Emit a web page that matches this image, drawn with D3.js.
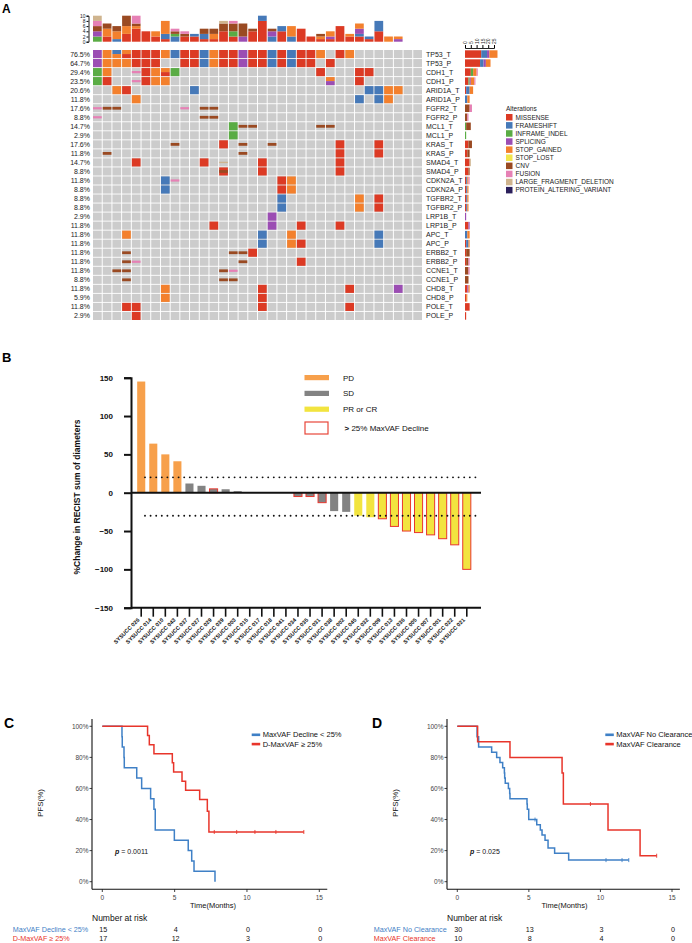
<!DOCTYPE html>
<html>
<head>
<meta charset="utf-8">
<script src="https://cdn.jsdelivr.net/npm/d3@7"></script>
<style>
  body { margin: 0; background: #fff; }
  svg { font-family: "Liberation Sans", Arial, Helvetica, sans-serif; }
</style>
</head>
<body>
<svg id="fig" width="692" height="943"></svg>
<script>
// ---------------- Panel A data (oncoprint) ----------------
var genes = ["TP53_T","TP53_P","CDH1_T","CDH1_P","ARID1A_T","ARID1A_P","FGFR2_T","FGFR2_P",
             "MCL1_T","MCL1_P","KRAS_T","KRAS_P","SMAD4_T","SMAD4_P","CDKN2A_T","CDKN2A_P",
             "TGFBR2_T","TGFBR2_P","LRP1B_T","LRP1B_P","APC_T","APC_P","ERBB2_T","ERBB2_P",
             "CCNE1_T","CCNE1_P","CHD8_T","CHD8_P","POLE_T","POLE_P"];
var genePct = ["76.5%","64.7%","29.4%","23.5%","20.6%","11.8%","17.6%","8.8%","14.7%","2.9%",
               "17.6%","11.8%","14.7%","8.8%","11.8%","8.8%","8.8%","8.8%","2.9%","11.8%",
               "11.8%","11.8%","11.8%","11.8%","11.8%","8.8%","11.8%","5.9%","11.8%","2.9%"];
// "column:codes" per gene row (M missense, F frameshift, I inframe, S splicing, G stop gained,
// L stop lost, C cnv, U fusion, D large deletion, P protein altering)
var oncoRows = [
  "0:S 1:G 2:FG 3:GM 4:M 5:M 6:M 7:G 8:F 9:M 10:M 11:F 12:G 13:M 14:M 15:S 16:M 17:M 18:F 19:M 20:F 21:M 22:M 23:G 25:M 26:G",
  "0:S 1:G 2:G 3:G 4:M 5:M 6:M 9:M 10:M 11:F 12:G 13:M 14:M 15:S 16:M 17:M 18:F 19:M 20:F 21:M 22:M 24:M",
  "0:I 1:G 4:U 5:M 6:G 7:GM 8:I 23:M 27:M 28:M",
  "0:I 1:M 4:U 5:M 6:G 7:G 24:GS 27:M",
  "2:G 3:M 10:F 28:F 29:F 30:G 31:G",
  "4:G 27:F 29:F 30:G",
  "0:U 1:C 2:C 9:U 11:C 12:C",
  "0:U 11:C 12:C",
  "14:I 15:C 16:C 23:C 24:C",
  "14:I",
  "8:C 13:M 15:C 18:C 25:M 29:M",
  "1:C 15:C 25:M 29:M",
  "4:M 11:M 13:D 17:M 25:M",
  "13:MC 17:M 25:M",
  "7:F 8:U 19:M 20:G",
  "7:F 19:M 20:G",
  "19:F 27:G 29:M",
  "19:F 27:G 29:M",
  "18:S",
  "12:M 18:S 21:M 25:M",
  "3:G 17:F 20:G 29:F",
  "17:F 20:G 21:M 29:F",
  "3:C 14:C 15:C 16:M",
  "3:C 4:U 15:C 21:M",
  "2:C 3:C 13:C 14:U",
  "3:C 13:C 14:C",
  "7:G 17:M 26:M 31:S",
  "7:G 17:M",
  "3:M 4:M 17:M 26:M",
  "4:M"
];
var nSamples = 34;

var altNames  = ["MISSENSE","FRAMESHIFT","INFRAME_INDEL","SPLICING","STOP_GAINED","STOP_LOST",
                 "CNV","FUSION","LARGE_FRAGMENT_DELETION","PROTEIN_ALTERING_VARIANT"];
var altCodes  = ["M","F","I","S","G","L","C","U","D","P"];
var altColors = ["#dc3a24","#4679b8","#5aac44","#9b4db3","#f3802d","#f2e64b",
                 "#9a4a22","#e681b5","#cfb48e","#2b1f5b"];

// top annotation: alterations per sample
var topMissense   = [0,2,0,3,5,4,2,1,0,2,2,1,1,4,2,0,4,8,0,4,0,5,2,1,1,6,2,2,1,4,0,0,0,0];
var topFrameshift = [0,0,1,0,0,0,0,2,2,0,1,2,0,0,0,0,0,2,2,2,2,0,0,0,0,0,0,1,1,4,0,0,0,0];
var topInframe    = [2,0,0,0,0,0,0,0,1,0,0,0,0,0,2,0,0,0,0,0,0,0,0,0,0,0,0,0,0,0,0,0,0,0];
var topSplicing   = [2,0,0,0,0,0,0,0,0,0,0,0,0,0,0,2,0,0,2,0,0,0,0,0,1,0,0,2,0,0,0,1,0,0];
var topStopGained = [0,3,3,3,1,0,2,5,0,0,0,0,2,0,0,0,0,0,0,0,4,0,0,1,2,0,1,2,0,0,2,1,0,0];
var topCnv        = [2,2,2,4,1,0,0,0,1,1,0,2,2,3,3,5,1,0,1,0,0,0,0,1,0,0,0,0,0,0,0,0,0,0];
var topFusion     = [2,0,0,0,3,0,0,0,1,1,0,0,0,0,1,0,0,0,0,0,0,0,0,0,0,0,0,0,0,0,0,0,0,0];
var topLargeDel   = [2,0,0,0,0,0,0,0,0,0,0,0,0,1,0,0,0,0,0,0,0,0,0,0,0,0,0,0,0,0,0,0,0,0];
var topTicks = [0,2,4,6,8,10];
var rightTicks = [0,5,10,15,20,25];

// ---------------- Panel B data (waterfall) ----------------
var patients = ["SYSUCC 026","SYSUCC 014","SYSUCC 010","SYSUCC 043","SYSUCC 037","SYSUCC 027",
                "SYSUCC 029","SYSUCC 039","SYSUCC 003","SYSUCC 015","SYSUCC 017","SYSUCC 018",
                "SYSUCC 041","SYSUCC 034","SYSUCC 035","SYSUCC 031","SYSUCC 038","SYSUCC 002",
                "SYSUCC 045","SYSUCC 032","SYSUCC 009","SYSUCC 013","SYSUCC 036","SYSUCC 005",
                "SYSUCC 007","SYSUCC 001","SYSUCC 022","SYSUCC 021"];
var recistChange = [145,64,50,41,12,9,5,4.5,2,0,0,0,0,-5,-5,-13,-24,-25,-30,-32,-34,-44,-50,-52,-55,-60,-68,-100];
var response = ["PD","PD","PD","PD","SD","SD","SD","SD","SD","SD","SD","SD","SD","SD","SD","SD","SD","SD",
                "PR","PR","PR","PR","PR","PR","PR","PR","PR","PR"];
var vafDecline = [0,0,0,0,0,0,1,0,0,0,0,0,0,1,1,1,0,0,0,0,1,1,1,1,1,1,1,1];
var respNames  = ["PD","SD","PR or CR"];
var respColors = {"PD":"#f7a04b","SD":"#838383","PR":"#f2e43f"};
var recistTicks = [150,100,50,0,-50,-100,-150];
var recistCutoffs = [20,-30];

// ---------------- Panel C / D data (Kaplan-Meier) ----------------
var cBlueTimes = [0,1.36,1.38,1.5,1.52,2.38,2.72,3.34,3.57,3.66,4.98,5.94,6.18,6.34,7.79];
var cBlueSurv  = [100,93.3,86.7,80,73.3,66.7,60,53.3,46.7,33.3,26.7,20,13.3,6.7,0];
var cRedTimes  = [0,3.13,3.25,3.57,4.84,4.93,5.51,5.76,6.73,7.26,7.37];
var cRedSurv   = [100,94.1,88.2,82.4,76.5,70.6,64.7,58.8,52.9,45.4,32.0];
var cRedCensor = [7.74,9.29,10.55,12.0,13.93];
var dBlueTimes = [0,1.38,1.49,2.4,2.75,2.98,3.17,3.29,3.31,3.35,3.57,3.66,3.68,4.87,4.89,4.99,5.55,5.8,5.92,6.13,6.34,6.8,7.78];
var dBlueSurv  = [100,93.3,86.7,83.3,80,76.7,73.3,70,66.7,63.3,60,56.7,53.3,50,46.7,40,36.7,33.3,30,26.7,21.7,18.3,13.9];
var dBlueCensor = [5.43,10.39,11.51,11.98];
var dRedTimes  = [0,1.42,3.68,7.32,7.41,10.53,12.77];
var dRedSurv   = [100,90,80,70,50,33.3,16.7];
var dRedCensor = [9.3,13.93];
var timeTicks = [0,5,10,15];
var pfsTicks = [0,20,40,60,80,100];
var cRiskBlue = [15,4,0,0], cRiskRed = [17,12,3,0];
var dRiskBlue = [30,13,3,0], dRiskRed = [10,8,4,0];

var BLUE = "#3f80c6", RED = "#e8352b";

var svg = d3.select("#fig");
svg.append("rect").attr("width", 692).attr("height", 943).attr("fill", "#fff");

// ======================= PANEL A =======================
var gA = svg.append("g");
gA.append("text").attr("x", 2).attr("y", 13).attr("font-size", 12).attr("font-weight", "bold").text("A");

var colX = d3.scaleBand().domain(d3.range(nSamples)).range([93, 422]).paddingInner(0.1);
var rowY = d3.scaleBand().domain(genes).range([50, 320]).paddingInner(0.1);
var colorOf = {};
altCodes.forEach(function(c, i) { colorOf[c] = altColors[i]; });

// parse rows into cells
var cells = [];
oncoRows.forEach(function(r, ri) {
  r.split(" ").forEach(function(tok) {
    var p = tok.split(":");
    cells.push({row: genes[ri], col: +p[0], codes: p[1].split("")});
  });
});

// grey background grid
genes.forEach(function(g) {
  gA.selectAll(null).data(d3.range(nSamples)).enter().append("rect")
    .attr("x", function(c) { return colX(c); })
    .attr("y", rowY(g))
    .attr("width", colX.bandwidth())
    .attr("height", rowY.bandwidth())
    .attr("fill", "#cccccc");
});

var thinH = {"C": 2.8, "U": 2.2, "D": 1.4};
cells.forEach(function(d) {
  var x = colX(d.col), y = rowY(d.row), w = colX.bandwidth(), h = rowY.bandwidth();
  var full = d.codes.filter(function(c) { return !thinH[c]; });
  var thin = d.codes.filter(function(c) { return thinH[c]; });
  full.forEach(function(c, i) {
    gA.append("rect").attr("x", x).attr("y", y + i * h / full.length)
      .attr("width", w).attr("height", h / full.length)
      .attr("fill", colorOf[c]);
  });
  thin.forEach(function(c) {
    gA.append("rect").attr("x", x).attr("y", y + h / 2 - thinH[c] / 2)
      .attr("width", w).attr("height", thinH[c])
      .attr("fill", colorOf[c]);
  });
});

// percent labels and gene names
gA.selectAll(".pct").data(genes).enter().append("text")
  .attr("x", 90).attr("y", function(g) { return rowY(g) + rowY.bandwidth() / 2; })
  .attr("dy", "0.35em").attr("text-anchor", "end").attr("font-size", 7).attr("fill", "#222")
  .text(function(g, i) { return genePct[i]; });
gA.selectAll(".gene").data(genes).enter().append("text")
  .attr("x", 426).attr("y", function(g) { return rowY(g) + rowY.bandwidth() / 2; })
  .attr("dy", "0.35em").attr("font-size", 7).attr("fill", "#222")
  .text(function(g) { return g; });

// top stacked bars
var topSeries = [topMissense, topFrameshift, topInframe, topSplicing, topStopGained, null, topCnv, topFusion, topLargeDel, null];
var yTop = d3.scaleLinear().domain([0, 10]).range([41.7, 15.7]);
d3.range(nSamples).forEach(function(c) {
  var acc = 0;
  topSeries.forEach(function(s, k) {
    if (!s || !s[c]) return;
    gA.append("rect").attr("x", colX(c)).attr("y", yTop(acc + s[c]))
      .attr("width", colX.bandwidth()).attr("height", yTop(acc) - yTop(acc + s[c]))
      .attr("fill", altColors[k]);
    acc += s[c];
  });
});
var topAxis = gA.append("g").attr("transform", "translate(88.5,0)")
  .call(d3.axisLeft(yTop).tickValues(topTicks).tickSize(2).tickPadding(1));
topAxis.selectAll("text").attr("font-size", 5).attr("fill", "#222");
topAxis.select(".domain").attr("stroke", "#222");

// right side stacked bars (counted from the matrix)
var xRight = d3.scaleLinear().domain([0, 25]).range([465, 494]);
genes.forEach(function(g) {
  var counts = altCodes.map(function() { return 0; });
  cells.filter(function(d) { return d.row === g; }).forEach(function(d) {
    d.codes.forEach(function(c) { counts[altCodes.indexOf(c)] += 1; });
  });
  var acc = 0;
  counts.forEach(function(n, k) {
    if (!n) return;
    gA.append("rect").attr("x", xRight(acc)).attr("y", rowY(g) + 0.3)
      .attr("width", xRight(acc + n) - xRight(acc)).attr("height", rowY.bandwidth() - 0.6)
      .attr("fill", altColors[k]);
    acc += n;
  });
});
var rAxis = gA.append("g").attr("transform", "translate(0,48)")
  .call(d3.axisTop(xRight).tickValues(rightTicks).tickSize(3).tickPadding(1));
rAxis.select(".domain").attr("stroke", "#222");
rAxis.selectAll("text").attr("font-size", 5).attr("fill", "#222")
  .attr("transform", "rotate(-90)").attr("text-anchor", "start")
  .attr("x", 4).attr("y", 0).attr("dy", "0.35em");

// legend
var legA = gA.append("g").attr("transform", "translate(506,0)");
legA.append("text").attr("x", 0).attr("y", 110.5).attr("font-size", 6.5).attr("fill", "#222").text("Alterations");
legA.selectAll(".li").data(altNames).enter().append("rect")
  .attr("x", 0).attr("y", function(d, i) { return 114 + i * 8.1; })
  .attr("width", 6.5).attr("height", 6.5)
  .attr("fill", function(d, i) { return altColors[i]; });
legA.selectAll(".lt").data(altNames).enter().append("text")
  .attr("x", 9.5).attr("y", function(d, i) { return 117.3 + i * 8.1; })
  .attr("dy", "0.35em").attr("font-size", 6.5).attr("fill", "#222")
  .text(function(d) { return d; });

// ======================= PANEL B =======================
var gB = svg.append("g");
gB.append("text").attr("x", 2).attr("y", 362).attr("font-size", 13).attr("font-weight", "bold").text("B");

var xB = d3.scaleBand().domain(patients).range([133.2, 474.8]).padding(0.33);
var yB = d3.scaleLinear().domain([-150, 150]).range([607.7, 377.7]);

gB.selectAll(".bar").data(patients).enter().append("rect")
  .attr("x", function(p) { return xB(p); })
  .attr("width", xB.bandwidth())
  .attr("y", function(p, i) { return yB(Math.max(0, recistChange[i])); })
  .attr("height", function(p, i) { return Math.abs(yB(recistChange[i]) - yB(0)); })
  .attr("fill", function(p, i) { return respColors[response[i]]; })
  .attr("stroke", function(p, i) { return vafDecline[i] ? "#e8372e" : "none"; })
  .attr("stroke-width", 1);

// dotted cut-off lines
recistCutoffs.forEach(function(v) {
  gB.append("line").attr("x1", 145).attr("x2", 476).attr("y1", yB(v)).attr("y2", yB(v))
    .attr("stroke", "#111").attr("stroke-width", 1.9)
    .attr("stroke-dasharray", "0,5.6").attr("stroke-linecap", "round");
});

// zero line
gB.append("line").attr("x1", 131).attr("x2", 481).attr("y1", yB(0)).attr("y2", yB(0))
  .attr("stroke", "#111").attr("stroke-width", 2);

// y axis
var yAxisB = gB.append("g").attr("transform", "translate(131,0)")
  .call(d3.axisLeft(yB).tickValues(recistTicks).tickSize(7).tickPadding(11).tickFormat(d3.format("d")));
yAxisB.select(".domain").attr("stroke", "#111").attr("stroke-width", 2);
yAxisB.selectAll(".tick line").attr("stroke", "#111").attr("stroke-width", 2);
yAxisB.selectAll("text").attr("font-size", 8).attr("font-weight", "bold").attr("fill", "#111");

// x axis at -150
var xAxisB = gB.append("g").attr("transform", "translate(0," + yB(-150) + ")")
  .call(d3.axisBottom(xB).tickSize(9).tickPadding(3));
xAxisB.select(".domain").attr("d", "M131,0H481").attr("stroke", "#111").attr("stroke-width", 2);
xAxisB.selectAll(".tick line").attr("stroke", "#111").attr("stroke-width", 1.6);
xAxisB.selectAll("text").attr("font-size", 5.5).attr("font-weight", "bold").attr("fill", "#111")
  .attr("text-anchor", "end").attr("transform", "rotate(-45)")
  .attr("x", -10).attr("y", 8).attr("dy", "0");

gB.append("text").attr("transform", "translate(80,497) rotate(-90)")
  .attr("text-anchor", "middle").attr("font-size", 8.5).attr("font-weight", "bold").attr("fill", "#111")
  .text("%Change in RECIST sum of diameters");

// legend B
var legB = gB.append("g");
["PD","SD","PR"].forEach(function(r, i) {
  legB.append("rect").attr("x", 304.5).attr("y", 375 + i * 15.8).attr("width", 24.5).attr("height", 5.2)
    .attr("fill", respColors[r]);
  legB.append("text").attr("x", 343).attr("y", 377.7 + i * 15.8).attr("dy", "0.35em")
    .attr("font-size", 8).attr("fill", "#111").text(respNames[i]);
});
legB.append("rect").attr("x", 305).attr("y", 422).attr("width", 23).attr("height", 12)
  .attr("fill", "#fff").attr("stroke", "#e8463a").attr("stroke-width", 1.2);
legB.append("text").attr("x", 344.5).attr("y", 428.3).attr("dy", "0.35em")
  .attr("font-size", 8).attr("fill", "#111")
  .html("<tspan font-weight='bold'>&gt;</tspan>  25% MaxVAF Decline");

// ======================= PANELS C & D =======================
function kmPanel(opt) {
  var g = svg.append("g");
  var x = d3.scaleLinear().domain([0, 15]).range(opt.xRange);
  var y = d3.scaleLinear().domain([0, 100]).range([881.7, 726.3]);
  var ax = opt.axisX;

  g.append("text").attr("x", opt.labelX).attr("y", 728).attr("font-size", 14)
    .attr("font-weight", "bold").text(opt.label);

  // axes
  g.append("line").attr("x1", ax).attr("x2", ax).attr("y1", 719).attr("y2", 889.3)
    .attr("stroke", "#111").attr("stroke-width", 1.1);
  g.append("line").attr("x1", ax).attr("x2", x(15.55)).attr("y1", 889.3).attr("y2", 889.3)
    .attr("stroke", "#111").attr("stroke-width", 1.1);
  pfsTicks.forEach(function(v) {
    g.append("line").attr("x1", ax - 2.5).attr("x2", ax).attr("y1", y(v)).attr("y2", y(v))
      .attr("stroke", "#111").attr("stroke-width", 0.8);
    g.append("text").attr("x", ax - 3.5).attr("y", y(v)).attr("dy", "0.35em")
      .attr("text-anchor", "end").attr("font-size", 6.5).attr("fill", "#444").text(v + "%");
  });
  timeTicks.forEach(function(t) {
    g.append("line").attr("x1", x(t)).attr("x2", x(t)).attr("y1", 889.3).attr("y2", 892)
      .attr("stroke", "#111").attr("stroke-width", 0.8);
    g.append("text").attr("x", x(t)).attr("y", 899.5).attr("text-anchor", "middle")
      .attr("font-size", 6.5).attr("fill", "#444").text(t);
  });
  g.append("text").attr("x", opt.timeLabelX).attr("y", 908).attr("text-anchor", "middle")
    .attr("font-size", 7.5).attr("fill", "#111").text("Time(Months)");
  g.append("text").attr("transform", "translate(" + (ax - 49) + ",803) rotate(-90)")
    .attr("text-anchor", "middle").attr("font-size", 8).attr("fill", "#111").text("PFS(%)");

  // curves
  var line = d3.line().curve(d3.curveStepAfter)
    .x(function(d) { return x(d[0]); }).y(function(d) { return y(d[1]); });
  opt.curves.forEach(function(cv) {
    var pts = cv.times.map(function(t, i) { return [t, cv.surv[i]]; });
    pts.push([cv.end, cv.surv[cv.surv.length - 1]]);
    g.append("path").attr("d", line(pts)).attr("fill", "none")
      .attr("stroke", cv.color).attr("stroke-width", 1.5);
    cv.censor.forEach(function(t) {
      var s = cv.surv[d3.bisectRight(cv.times, t) - 1];
      g.append("line").attr("x1", x(t)).attr("x2", x(t)).attr("y1", y(s) - 2).attr("y2", y(s) + 2)
        .attr("stroke", cv.color).attr("stroke-width", 0.9);
    });
  });

  // legend
  opt.curves.forEach(function(cv, i) {
    g.append("rect").attr("x", opt.legendX).attr("y", 733.5 + i * 9.3).attr("width", 8.5).attr("height", 2.6)
      .attr("fill", cv.color);
    g.append("text").attr("x", opt.legendX + 11).attr("y", 734.8 + i * 9.3).attr("dy", "0.35em")
      .attr("font-size", 7.5).attr("fill", "#111").text(cv.name);
  });

  // p value
  g.append("text").attr("x", ax + 23).attr("y", 854).attr("font-size", 7).attr("fill", "#111")
    .html("<tspan font-weight='bold' font-style='italic'>p</tspan> = " + opt.p);

  // number at risk
  g.append("text").attr("x", ax).attr("y", 921).attr("font-size", 8.5).attr("fill", "#111").text("Number at risk");
  opt.curves.forEach(function(cv, i) {
    g.append("text").attr("x", opt.riskLabelX).attr("y", 932.3 + i * 8.2).attr("font-size", 7.2)
      .attr("fill", cv.color).text(cv.name);
    timeTicks.forEach(function(t, j) {
      g.append("text").attr("x", x(t) + 1).attr("y", 932.3 + i * 8.2).attr("text-anchor", "middle")
        .attr("font-size", 7.2).attr("fill", "#111").text(cv.risk[j]);
    });
  });
}

kmPanel({
  label: "C", labelX: 4, axisX: 92, xRange: [102.3, 319.3], timeLabelX: 213,
  legendX: 251.7, riskLabelX: 12.7, p: "0.0011",
  curves: [
    {name: "MaxVAF Decline < 25%", color: BLUE, times: cBlueTimes, surv: cBlueSurv, end: 7.79, censor: [], risk: cRiskBlue},
    {name: "D-MaxVAF \u2265 25%", color: RED, times: cRedTimes, surv: cRedSurv, end: 13.93, censor: cRedCensor, risk: cRiskRed}
  ]
});

kmPanel({
  label: "D", labelX: 372, axisX: 447, xRange: [457.3, 672], timeLabelX: 564.5,
  legendX: 605.3, riskLabelX: 373.7, p: "0.025",
  curves: [
    {name: "MaxVAF No Clearance", color: BLUE, times: dBlueTimes, surv: dBlueSurv, end: 11.98, censor: dBlueCensor, risk: dRiskBlue},
    {name: "MaxVAF Clearance", color: RED, times: dRedTimes, surv: dRedSurv, end: 13.93, censor: dRedCensor, risk: dRiskRed}
  ]
});
</script>
</body>
</html>
